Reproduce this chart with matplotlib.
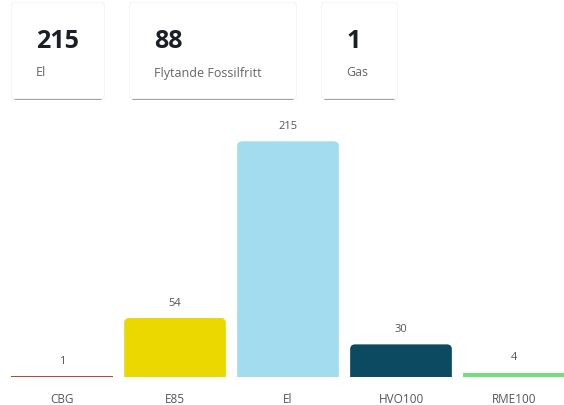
import matplotlib
matplotlib.use("Agg")
import matplotlib.pyplot as plt
from matplotlib.patches import FancyBboxPatch

plt.rcParams['font.family'] = ['Open Sans', 'DejaVu Sans']

# Data
categories = ["CBG", "E85", "El", "HVO100", "RME100"]
values = [1, 54, 215, 30, 4]
bar_colors = ["#b4463c", "#ebd800", "#a3dcee", "#0b4a60", "#70e07a"]

card_values = ["215", "88", "1"]
card_labels = ["El", "Flytande Fossilfritt", "Gas"]

W, H = 564, 406
fig = plt.figure(figsize=(W / 100, H / 100), dpi=100)
fig.patch.set_facecolor("white")

# KPI cards (pixel layout)
card_boxes = [(12, 104), (130, 296), (322, 397)]
card_top, card_bottom = 4, 100
overlay = fig.add_axes([0, 0, 1, 1])
overlay.set_xlim(0, W)
overlay.set_ylim(H, 0)
overlay.axis("off")
for (x0, x1), num, lab in zip(card_boxes, card_values, card_labels):
    overlay.add_patch(FancyBboxPatch((x0 + 1, card_top + 1), x1 - x0 - 2, card_bottom - card_top,
                                     boxstyle="round,pad=0,rounding_size=3",
                                     facecolor="#a0a0a0", edgecolor="none", zorder=1))
    overlay.add_patch(FancyBboxPatch((x0 - 1, card_top - 1), x1 - x0 + 2, card_bottom - card_top + 1,
                                     boxstyle="round,pad=0,rounding_size=3",
                                     facecolor="#f5f5f5", edgecolor="none", zorder=1))
    overlay.add_patch(FancyBboxPatch((x0, card_top), x1 - x0, card_bottom - card_top - 1,
                                     boxstyle="round,pad=0,rounding_size=3",
                                     facecolor="white", edgecolor="none", zorder=2))
    overlay.text(x0 + 24, 41, num, fontsize=18, fontweight="bold", color="#1c1f26",
                 ha="left", va="center", zorder=3)
    overlay.text(x0 + 24, 73, lab, fontsize=9, color="#666666",
                 ha="left", va="center", zorder=3)

# Bar chart
base_px = 378.3
px_per_unit = 236.0 / 215.0
ymax = 250
ax_h_px = ymax * px_per_unit
ax = fig.add_axes([5.5 / W, (H - base_px) / H, 565.0 / W, ax_h_px / H])
ax.set_xlim(-0.5, len(categories) - 0.5)
ax.set_ylim(0, ymax)
ax.axis("off")

bars = ax.bar(range(len(categories)), values, width=0.9, color=bar_colors)
slot_px = 113.0
r_x = 5.0 / slot_px
aspect = (1.0 / px_per_unit) / (1.0 / slot_px)
for b in bars:
    h = b.get_height()
    if h > 10:
        ext = r_x * aspect
        p = FancyBboxPatch((b.get_x(), -ext), b.get_width(), h + ext,
                           boxstyle=f"round,pad=0,rounding_size={r_x}",
                           mutation_aspect=aspect,
                           facecolor=b.get_facecolor(), edgecolor="none")
        ax.add_patch(p)
        b.set_visible(False)

for i, v in enumerate(values):
    ax.annotate(str(v), (i, v), xytext=(0, 11.5), textcoords="offset points",
                ha="center", va="center", fontsize=8, color="#555555",
                annotation_clip=False)
    ax.annotate(categories[i], (i, 0), xytext=(0, -15), textcoords="offset points",
                ha="center", va="center", fontsize=8.5, color="#555555",
                annotation_clip=False)

fig.savefig("out.png", dpi=100, facecolor="white")
